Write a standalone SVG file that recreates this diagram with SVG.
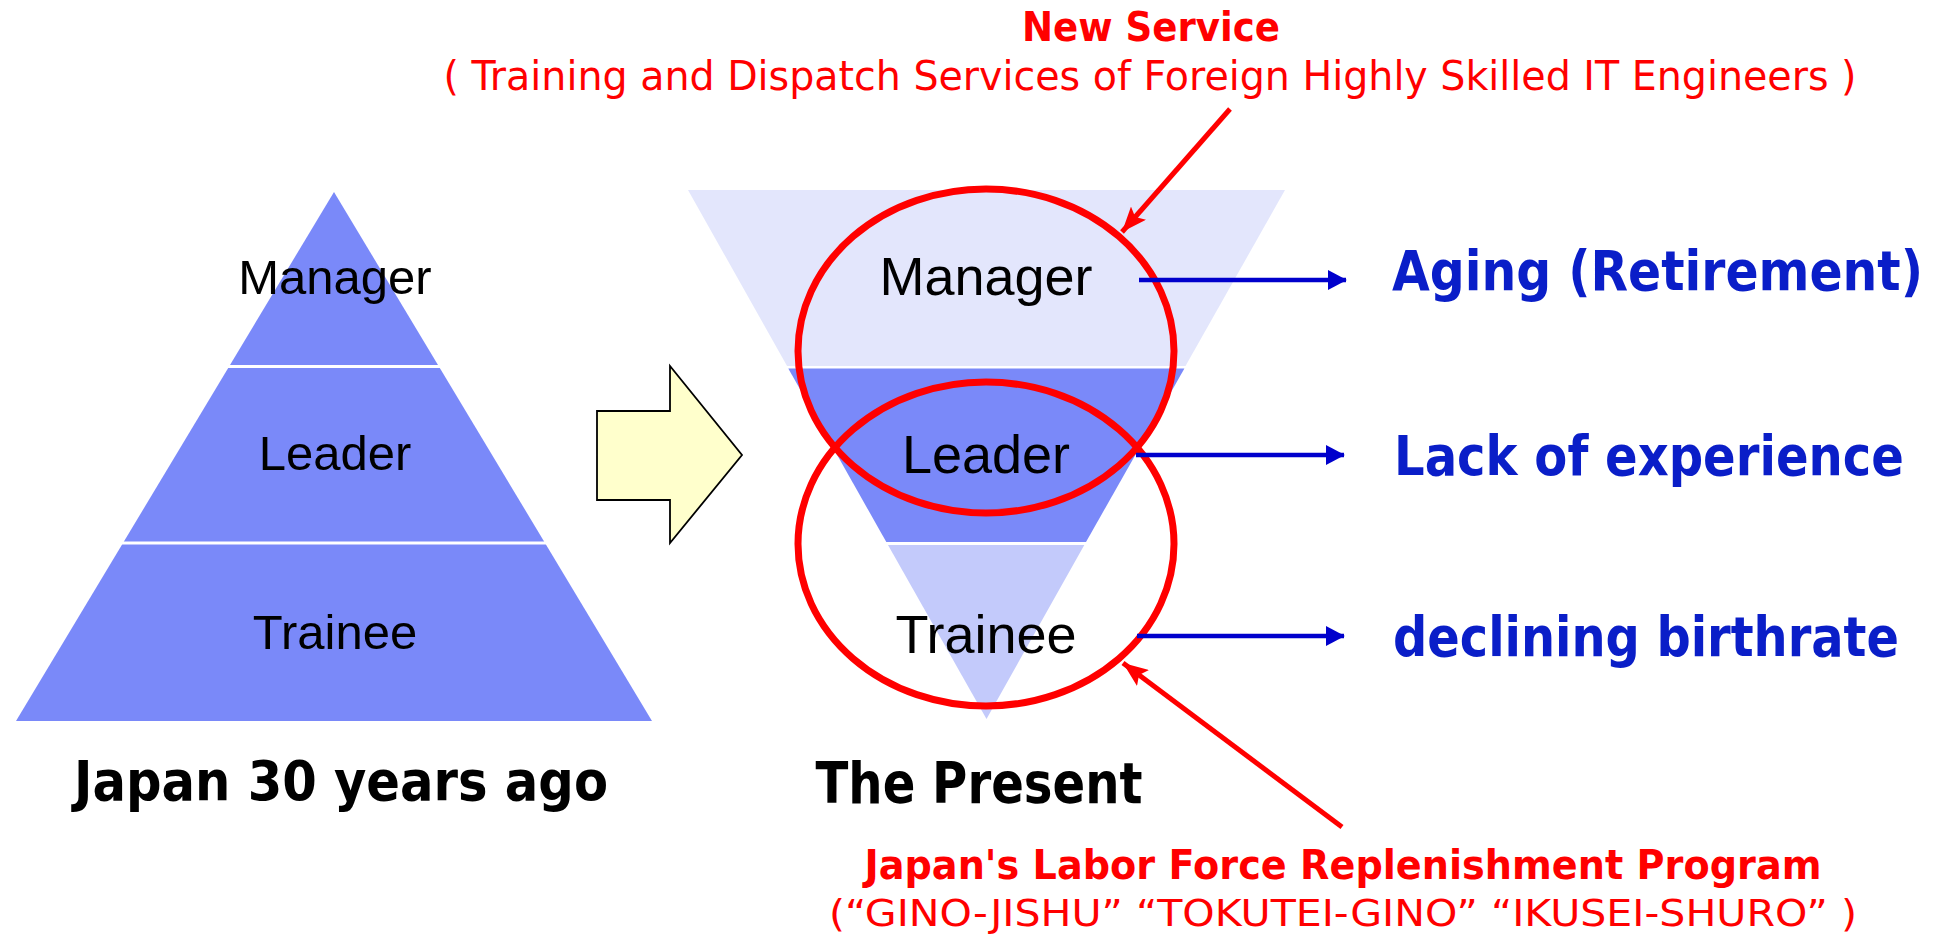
<svg xmlns="http://www.w3.org/2000/svg" width="1945" height="934" viewBox="0 0 1945 934">
<style>
.lbl{font-family:"Liberation Sans",Arial,sans-serif;fill:#000;text-anchor:middle}
.bold{font-family:"DejaVu Sans","Noto Sans",sans-serif;font-weight:bold}
.cbold{font-family:"DejaVu Sans Condensed","DejaVu Sans","Noto Sans",sans-serif;font-weight:bold;font-stretch:condensed}
.reg{font-family:"DejaVu Sans","Noto Sans",sans-serif}
.blue{fill:#0A1EC8}
.red{fill:#FF0000}
.sep{stroke:#fff;stroke-width:3}
.barr{stroke:#0000CC;stroke-width:4.5;fill:none;marker-end:url(#bh)}
.rarr{stroke:#FF0000;stroke-width:5;fill:none;marker-end:url(#rh)}
.ring{fill:none;stroke:#FF0000;stroke-width:7}
</style>
<defs>
<marker id="bh" markerWidth="5" markerHeight="5" refX="4" refY="2.5" orient="auto" markerUnits="strokeWidth">
<path d="M0,0.3 L4.2,2.5 L0,4.7 Z" fill="#0000CC"/>
</marker>
<marker id="rh" markerWidth="6" markerHeight="4" refX="5" refY="2" orient="auto" markerUnits="strokeWidth">
<path d="M0,0 L5,2 L0,4 L1,2 Z" fill="#FF0000"/>
</marker>
</defs>
<rect width="1945" height="934" fill="#fff"/>

<g id="pyramid-past">
<polygon points="334,192 652,721 16,721" fill="#7A89F9"/>
<line class="sep" x1="0" y1="366.5" x2="700" y2="366.5"/>
<line class="sep" x1="0" y1="543" x2="700" y2="543"/>
<text class="lbl" x="335" y="294" font-size="49">Manager</text>
<text class="lbl" x="335" y="470" font-size="49">Leader</text>
<text class="lbl" x="335" y="649" font-size="49">Trainee</text>
<text class="bold" x="341" y="800" font-size="56" text-anchor="middle" textLength="534" lengthAdjust="spacingAndGlyphs">Japan 30 years ago</text>
</g>

<g id="transition-arrow">
<polygon points="597,411 670,411 670,366 742,455 670,543 670,500 597,500" fill="#FFFFCC" stroke="#000" stroke-width="1.8"/>
</g>

<g id="pyramid-present">
<polygon points="688,190 1285,190 1185.5,366 787.1,366" fill="#E3E6FC"/>
<polygon points="788.3,368.5 1184.4,368.5 1086,542 886.3,542" fill="#7A89F9"/>
<polygon points="888,545 1084.3,545 986.5,719" fill="#C3CAFB"/>
<text class="lbl" x="986" y="295" font-size="54">Manager</text>
<text class="lbl" x="986" y="473" font-size="54">Leader</text>
<text class="lbl" x="986" y="653" font-size="54">Trainee</text>
<text class="bold" x="979" y="803" font-size="57" text-anchor="middle" textLength="327" lengthAdjust="spacingAndGlyphs">The Present</text>
</g>

<g id="rings">
<ellipse class="ring" cx="986" cy="351" rx="188" ry="162"/>
<ellipse class="ring" cx="986" cy="544" rx="188" ry="162"/>
</g>

<g id="effects">
<text class="cbold blue" x="1392" y="290" font-size="55" textLength="531" lengthAdjust="spacingAndGlyphs">Aging (Retirement)</text>
<text class="cbold blue" x="1394" y="475" font-size="55" textLength="510" lengthAdjust="spacingAndGlyphs">Lack of experience</text>
<text class="cbold blue" x="1393" y="656" font-size="55" textLength="506" lengthAdjust="spacingAndGlyphs">declining birthrate</text>
</g>

<g id="new-service">
<text class="bold red" x="1151" y="41" font-size="41" text-anchor="middle" textLength="258" lengthAdjust="spacingAndGlyphs">New Service</text>
<text class="reg red" x="1150" y="90" font-size="40" text-anchor="middle" textLength="1413" lengthAdjust="spacingAndGlyphs">( Training and Dispatch Services of Foreign Highly Skilled IT Engineers )</text>
</g>

<g id="labor-program">
<text class="bold red" x="1343" y="879" font-size="41" text-anchor="middle" textLength="957" lengthAdjust="spacingAndGlyphs">Japan's Labor Force Replenishment Program</text>
<text class="reg red" x="1343" y="926" font-size="38" text-anchor="middle" textLength="1028" lengthAdjust="spacingAndGlyphs">(“GINO-JISHU” “TOKUTEI-GINO” “IKUSEI-SHURO” )</text>
</g>

<g id="connectors">
<line class="barr" x1="1139" y1="280" x2="1346" y2="280"/>
<line class="barr" x1="1136" y1="455" x2="1344" y2="455"/>
<line class="barr" x1="1137" y1="636" x2="1344" y2="636"/>
<line class="rarr" x1="1230" y1="109" x2="1122" y2="232"/>
<line class="rarr" x1="1342" y1="827" x2="1123" y2="663"/>
</g>
</svg>
